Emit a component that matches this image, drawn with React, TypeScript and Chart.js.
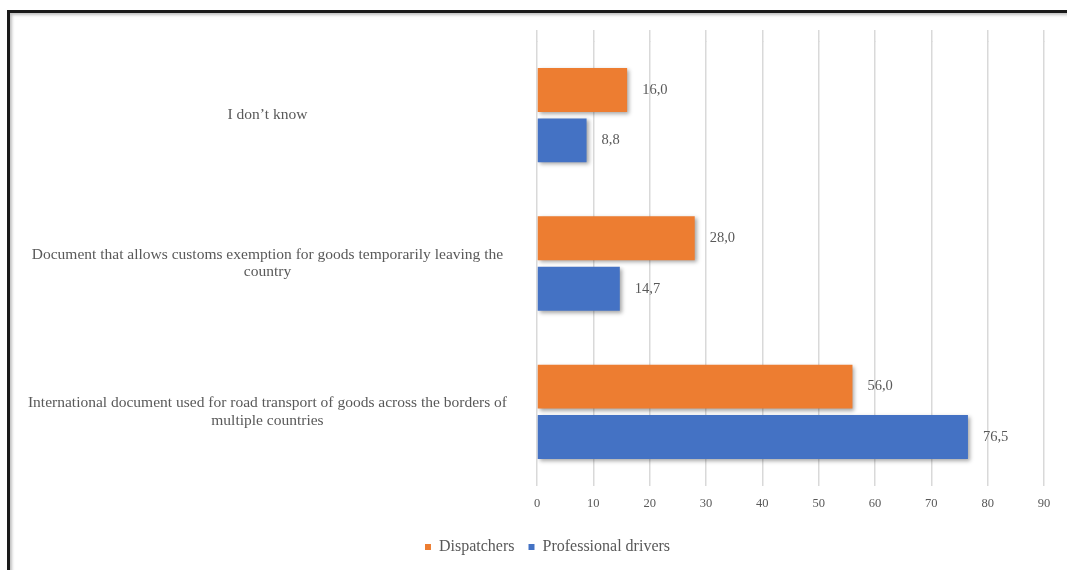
import { useEffect, useRef } from "react";
import { Chart, registerables } from "chart.js";

Chart.register(...registerables);

const categories: string[][] = [
  ["I don’t know"],
  ["Document that allows customs exemption for goods temporarily leaving the", "country"],
  ["International document used for road transport of goods across the borders of", "multiple countries"],
];
const seriesNames = ["Dispatchers", "Professional drivers"];
const dispatchers = [16.0, 28.0, 56.0];
const professionalDrivers = [8.8, 14.7, 76.5];
const xMin = 0;
const xMax = 90;
const xStep = 10;

const ORANGE = "#ED7D31";
const BLUE = "#4472C4";
const TEXT = "#595959";
const GRID = "#d9d9d9";
const FONT = "'Liberation Serif', 'Times New Roman', serif";

const shadowPlugin = {
  id: "barShadow",
  beforeDatasetDraw(chart: any) {
    const ctx = chart.ctx;
    ctx.save();
    ctx.shadowColor = "rgba(0,0,0,0.35)";
    ctx.shadowBlur = 4;
    ctx.shadowOffsetX = 2;
    ctx.shadowOffsetY = 2;
  },
  afterDatasetDraw(chart: any) {
    chart.ctx.restore();
  },
};

const alignPixel = (chart: any, pixel: number, width: number) => {
  const dpr = chart.currentDevicePixelRatio || 1;
  const half = width / 2;
  return Math.round((pixel - half) * dpr) / dpr + half;
};

// let y-axis labels extend beyond the axis box, and extend grid lines a little above the plot
const layoutPlugin = {
  id: "layoutTweaks",
  beforeDraw(chart: any) {
    const y = chart.scales.y;
    if (y) y._computeLabelArea = () => undefined;
  },
  beforeDatasetsDraw(chart: any) {
    const ctx = chart.ctx;
    const x = chart.scales.x;
    const top = chart.chartArea.top;
    ctx.save();
    ctx.strokeStyle = GRID;
    ctx.lineWidth = 1.5;
    x.ticks.forEach((t: any) => {
      const px = alignPixel(chart, x.getPixelForValue(t.value), 1.5);
      ctx.beginPath();
      ctx.moveTo(px, top - 11);
      ctx.lineTo(px, top + 1);
      ctx.stroke();
    });
    ctx.restore();
  },
};

const valueLabelPlugin = {
  id: "valueLabels",
  afterDatasetsDraw(chart: any) {
    const ctx = chart.ctx;
    ctx.save();
    ctx.font = `14.5px ${FONT}`;
    ctx.fillStyle = TEXT;
    ctx.textAlign = "left";
    ctx.textBaseline = "middle";
    chart.data.datasets.forEach((ds: any, i: number) => {
      const meta = chart.getDatasetMeta(i);
      meta.data.forEach((el: any, j: number) => {
        const v = ds.data[j] as number;
        ctx.fillText(v.toFixed(1).replace(".", ","), el.x + 15, el.y);
      });
    });
    ctx.restore();
  },
};

export default function App() {
  const ref = useRef<HTMLCanvasElement | null>(null);

  useEffect(() => {
    if (!ref.current) return;
    const chart = new Chart(ref.current, {
      type: "bar",
      data: {
        labels: categories,
        datasets: [
          {
            label: seriesNames[0],
            data: dispatchers,
            backgroundColor: ORANGE,
            categoryPercentage: 0.68,
            barPercentage: 0.87,
          },
          {
            label: seriesNames[1],
            data: professionalDrivers,
            backgroundColor: BLUE,
            categoryPercentage: 0.68,
            barPercentage: 0.87,
          },
        ],
      },
      options: {
        indexAxis: "y",
        responsive: false,
        animation: false,
        layout: { padding: { left: 41, right: 66, top: 28, bottom: 28 } },
        scales: {
          x: {
            min: xMin,
            max: xMax,
            ticks: { stepSize: xStep, color: TEXT, font: { family: FONT, size: 12.5 }, padding: 10 },
            grid: { color: GRID, lineWidth: 1.5, drawTicks: false },
            border: { display: false },
            afterFit: (s: any) => {
              s.height = 39;
              s.paddingLeft = 0;
              s.paddingRight = 0;
            },
          },
          y: {
            ticks: {
              color: TEXT,
              font: { family: FONT, size: 15.5, lineHeight: 1.15 },
              crossAlign: "center",
              padding: 30,
            },
            grid: { display: false, drawTicks: false },
            border: { display: false },
            afterFit: (s: any) => {
              s.width = 486;
              s.paddingTop = 0;
              s.paddingBottom = 0;
            },
          },
        },
        plugins: {
          legend: {
            position: "bottom",
            labels: {
              boxWidth: 6,
              boxHeight: 6,
              padding: 14,
              color: TEXT,
              font: { family: FONT, size: 16 },
            },
          },
          tooltip: { enabled: false },
        },
      },
      plugins: [layoutPlugin, shadowPlugin, valueLabelPlugin],
    } as any);
    chart.draw();
    return () => chart.destroy();
  }, []);

  return (
    <div style={{ position: "fixed", left: 0, top: 0, width: 1067, height: 570, overflow: "hidden", background: "#fff" }}>
      <div
        style={{
          position: "absolute",
          left: 7,
          top: 10,
          borderTop: "3px solid #1a1a1a",
          borderLeft: "3px solid #1a1a1a",
          width: 1100,
          height: 600,
          boxShadow: "inset 2px 2px 3px rgba(0,0,0,0.25)",
          background: "#fff",
        }}
      >
        <canvas ref={ref} width={1100} height={580} style={{ display: "block", width: 1100, height: 580 }} />
      </div>
    </div>
  );
}
